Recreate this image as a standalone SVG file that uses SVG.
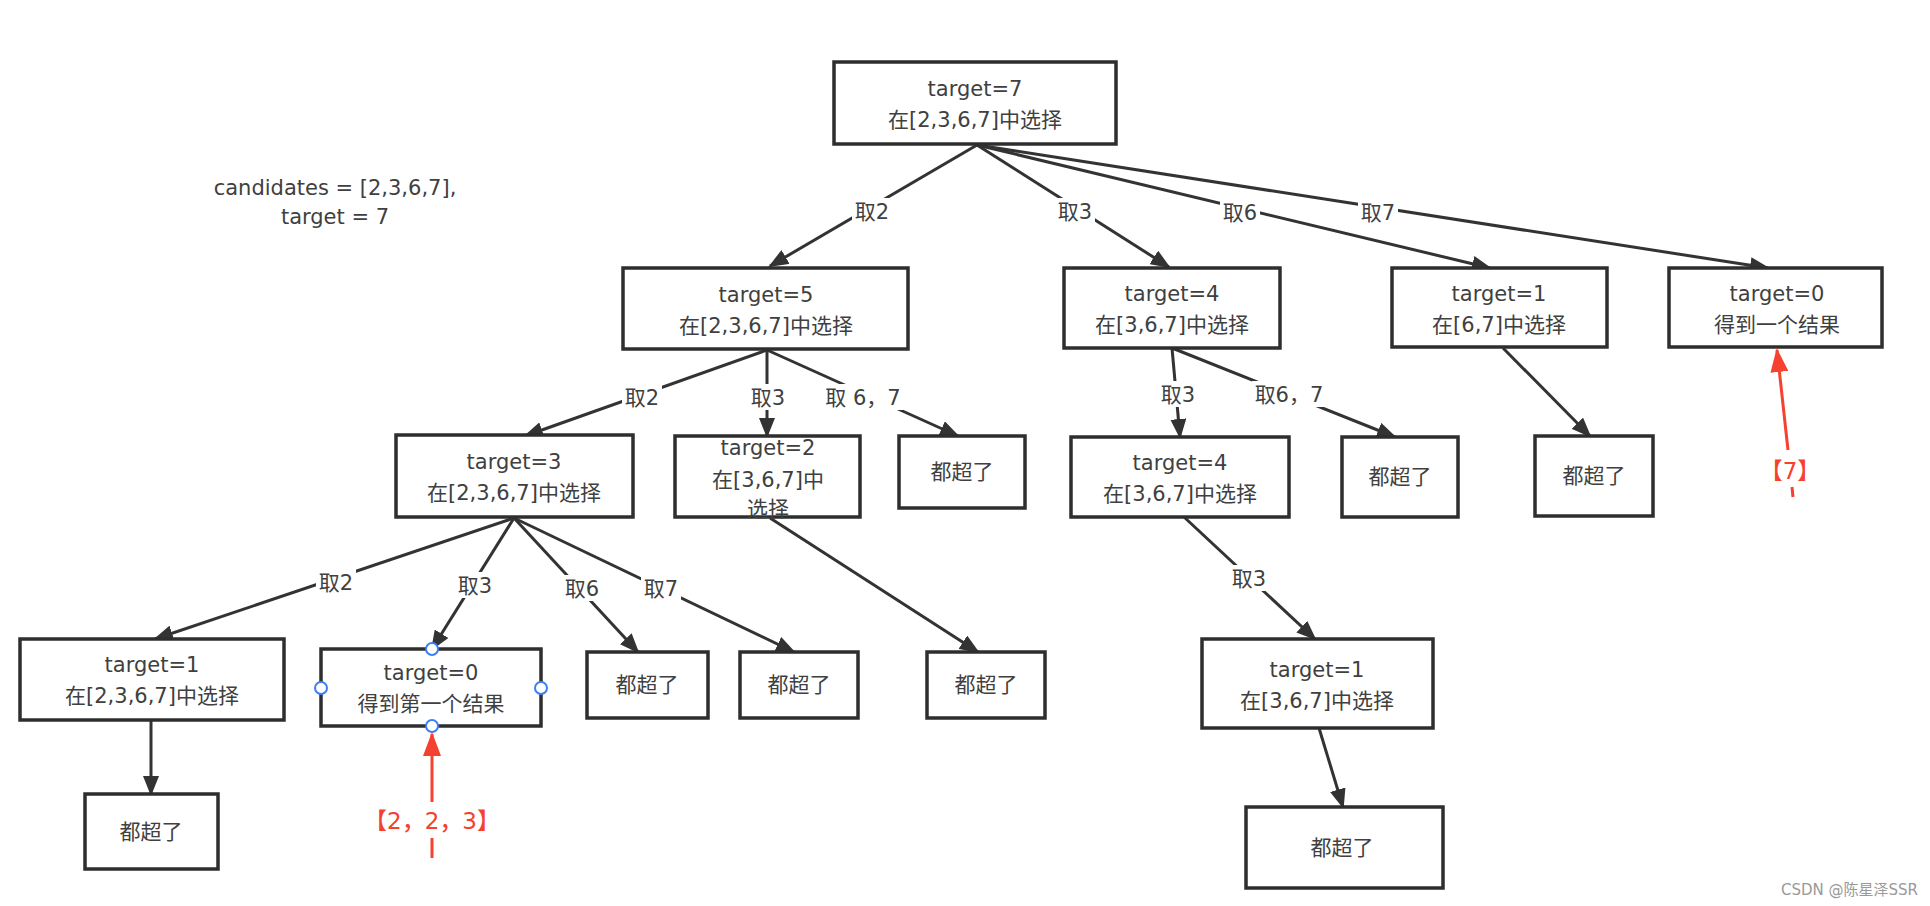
<svg xmlns="http://www.w3.org/2000/svg" width="1930" height="906" viewBox="0 0 1930 906">
<style>
.box{fill:#fff;stroke:#2e2e2e;stroke-width:3.5}
.t{font-family:"DejaVu Sans","Noto Sans CJK SC",sans-serif;font-size:21px;fill:#404040;text-anchor:middle}
.edge{stroke:#333;stroke-width:3;fill:none;marker-end:url(#ah)}
.bg{fill:#fff}
.red{stroke:#f5412f;stroke-width:3;fill:none}
.rt{font-family:"DejaVu Sans","Noto Sans CJK SC",sans-serif;font-size:23px;font-weight:500;fill:#f5412f;text-anchor:middle}
.pt{fill:#fff;stroke:#3d7ff5;stroke-width:2}
</style>
<defs>
<marker id="ah" viewBox="0 0 20 16" refX="18" refY="8" markerWidth="20" markerHeight="16" markerUnits="userSpaceOnUse" orient="auto">
<path d="M0,0 L20,8 L0,16 z" fill="#333"/>
</marker>
<marker id="ahr" viewBox="0 0 24 18" refX="22" refY="9" markerWidth="24" markerHeight="18" markerUnits="userSpaceOnUse" orient="auto">
<path d="M0,0 L24,9 L0,18 z" fill="#f5412f"/>
</marker>
</defs>
<rect width="1930" height="906" fill="#fff"/>

<g id="info">
<text class="t" x="335" y="195">candidates = [2,3,6,7],</text>
<text class="t" x="335" y="224">target = 7</text>
</g>

<g id="connectors">
<line class="edge" x1="977" y1="145" x2="770" y2="266"/>
<line class="edge" x1="977" y1="145" x2="1169" y2="267"/>
<line class="edge" x1="977" y1="145" x2="1490" y2="268"/>
<line class="edge" x1="977" y1="145" x2="1768" y2="268"/>
<line class="edge" x1="767" y1="350" x2="525" y2="436"/>
<line class="edge" x1="767" y1="350" x2="767" y2="436"/>
<line class="edge" x1="767" y1="350" x2="958" y2="436"/>
<line class="edge" x1="1172" y1="348" x2="1180" y2="437"/>
<line class="edge" x1="1172" y1="348" x2="1395" y2="437"/>
<line class="edge" x1="1503" y1="348" x2="1590" y2="436"/>
<line class="edge" x1="770" y1="518" x2="978" y2="652"/>
<line class="edge" x1="514" y1="518" x2="155" y2="639"/>
<line class="edge" x1="514" y1="518" x2="432" y2="649"/>
<line class="edge" x1="514" y1="518" x2="638" y2="652"/>
<line class="edge" x1="514" y1="518" x2="794" y2="652"/>
<line class="edge" x1="1184" y1="517" x2="1315" y2="639"/>
<line class="edge" x1="151" y1="720" x2="151" y2="794"/>
<line class="edge" x1="1319" y1="728" x2="1343" y2="807"/>
<g id="edge-labels">
<rect class="bg" x="852" y="198" width="40" height="26"/><text class="t" x="872" y="219">取2</text>
<rect class="bg" x="1055" y="198" width="40" height="26"/><text class="t" x="1075" y="219">取3</text>
<rect class="bg" x="1220" y="199" width="40" height="26"/><text class="t" x="1240" y="220">取6</text>
<rect class="bg" x="1358" y="199" width="40" height="26"/><text class="t" x="1378" y="220">取7</text>
<rect class="bg" x="622" y="384" width="40" height="26"/><text class="t" x="642" y="405">取2</text>
<rect class="bg" x="748" y="384" width="40" height="26"/><text class="t" x="768" y="405">取3</text>
<rect class="bg" x="823" y="384" width="80" height="26"/><text class="t" x="863" y="405">取 6，7</text>
<rect class="bg" x="1158" y="381" width="40" height="26"/><text class="t" x="1178" y="402">取3</text>
<rect class="bg" x="1252" y="381" width="74" height="26"/><text class="t" x="1289" y="402">取6，7</text>
<rect class="bg" x="316" y="569" width="40" height="26"/><text class="t" x="336" y="590">取2</text>
<rect class="bg" x="455" y="572" width="40" height="26"/><text class="t" x="475" y="593">取3</text>
<rect class="bg" x="562" y="575" width="40" height="26"/><text class="t" x="582" y="596">取6</text>
<rect class="bg" x="641" y="575" width="40" height="26"/><text class="t" x="661" y="596">取7</text>
<rect class="bg" x="1229" y="565" width="40" height="26"/><text class="t" x="1249" y="586">取3</text>
</g>
</g>

<g id="n-root"><rect class="box" x="834" y="62" width="282" height="82"/><text class="t" x="975" y="96">target=7</text><text class="t" x="975" y="127">在[2,3,6,7]中选择</text></g>
<g id="n-t5"><rect class="box" x="623" y="268" width="285" height="81"/><text class="t" x="766" y="302">target=5</text><text class="t" x="766" y="333">在[2,3,6,7]中选择</text></g>
<g id="n-t4"><rect class="box" x="1064" y="268" width="216" height="80"/><text class="t" x="1172" y="301">target=4</text><text class="t" x="1172" y="332">在[3,6,7]中选择</text></g>
<g id="n-t1a"><rect class="box" x="1392" y="268" width="215" height="79"/><text class="t" x="1499" y="301">target=1</text><text class="t" x="1499" y="332">在[6,7]中选择</text></g>
<g id="n-t0a"><rect class="box" x="1669" y="268" width="213" height="79"/><text class="t" x="1777" y="301">target=0</text><text class="t" x="1777" y="332">得到一个结果</text></g>

<g id="n-t3"><rect class="box" x="396" y="435" width="237" height="82"/><text class="t" x="514" y="469">target=3</text><text class="t" x="514" y="500">在[2,3,6,7]中选择</text></g>
<g id="n-t2"><rect class="box" x="675" y="436" width="185" height="81"/><text class="t" x="768" y="455">target=2</text><text class="t" x="768" y="487">在[3,6,7]中</text><text class="t" x="768" y="516">选择</text></g>
<g id="n-x1"><rect class="box" x="899" y="436" width="126" height="72"/><text class="t" x="962" y="479">都超了</text></g>
<g id="n-t4b"><rect class="box" x="1071" y="437" width="218" height="80"/><text class="t" x="1180" y="470">target=4</text><text class="t" x="1180" y="501">在[3,6,7]中选择</text></g>
<g id="n-x2"><rect class="box" x="1342" y="437" width="116" height="80"/><text class="t" x="1400" y="484">都超了</text></g>
<g id="n-x3"><rect class="box" x="1535" y="436" width="118" height="80"/><text class="t" x="1594" y="483">都超了</text></g>

<g id="n-t1b"><rect class="box" x="20" y="639" width="264" height="81"/><text class="t" x="152" y="672">target=1</text><text class="t" x="152" y="703">在[2,3,6,7]中选择</text></g>
<g id="n-t0b"><rect class="box" x="321" y="649" width="220" height="77"/><text class="t" x="431" y="680">target=0</text><text class="t" x="431" y="711">得到第一个结果</text>
<circle class="pt" cx="432" cy="649" r="6"/><circle class="pt" cx="321" cy="688" r="6"/><circle class="pt" cx="541" cy="688" r="6"/><circle class="pt" cx="432" cy="726" r="6"/></g>
<g id="n-x4"><rect class="box" x="587" y="652" width="121" height="66"/><text class="t" x="647" y="692">都超了</text></g>
<g id="n-x5"><rect class="box" x="740" y="652" width="118" height="66"/><text class="t" x="799" y="692">都超了</text></g>
<g id="n-x6"><rect class="box" x="927" y="652" width="118" height="66"/><text class="t" x="986" y="692">都超了</text></g>
<g id="n-t1c"><rect class="box" x="1202" y="639" width="231" height="89"/><text class="t" x="1317" y="677">target=1</text><text class="t" x="1317" y="708">在[3,6,7]中选择</text></g>
<g id="n-x7"><rect class="box" x="85" y="794" width="133" height="75"/><text class="t" x="151" y="839">都超了</text></g>
<g id="n-x8"><rect class="box" x="1246" y="807" width="197" height="81"/><text class="t" x="1342" y="855">都超了</text></g>

<g id="results">
<line class="red" x1="432" y1="802" x2="432" y2="734" marker-end="url(#ahr)"/>
<text class="rt" x="432" y="829">【2，2，3】</text>
<line class="red" x1="432" y1="838" x2="432" y2="858"/>
<line class="red" x1="1788" y1="450" x2="1777" y2="350" marker-end="url(#ahr)"/>
<text class="rt" x="1790" y="479">【7】</text>
<line class="red" x1="1792" y1="487" x2="1793" y2="497"/>
</g>

<text x="1918" y="895" style="font-family:'DejaVu Sans','Noto Sans CJK SC',sans-serif;font-size:15px;fill:#999;text-anchor:end">CSDN @陈星泽SSR</text>
</svg>
